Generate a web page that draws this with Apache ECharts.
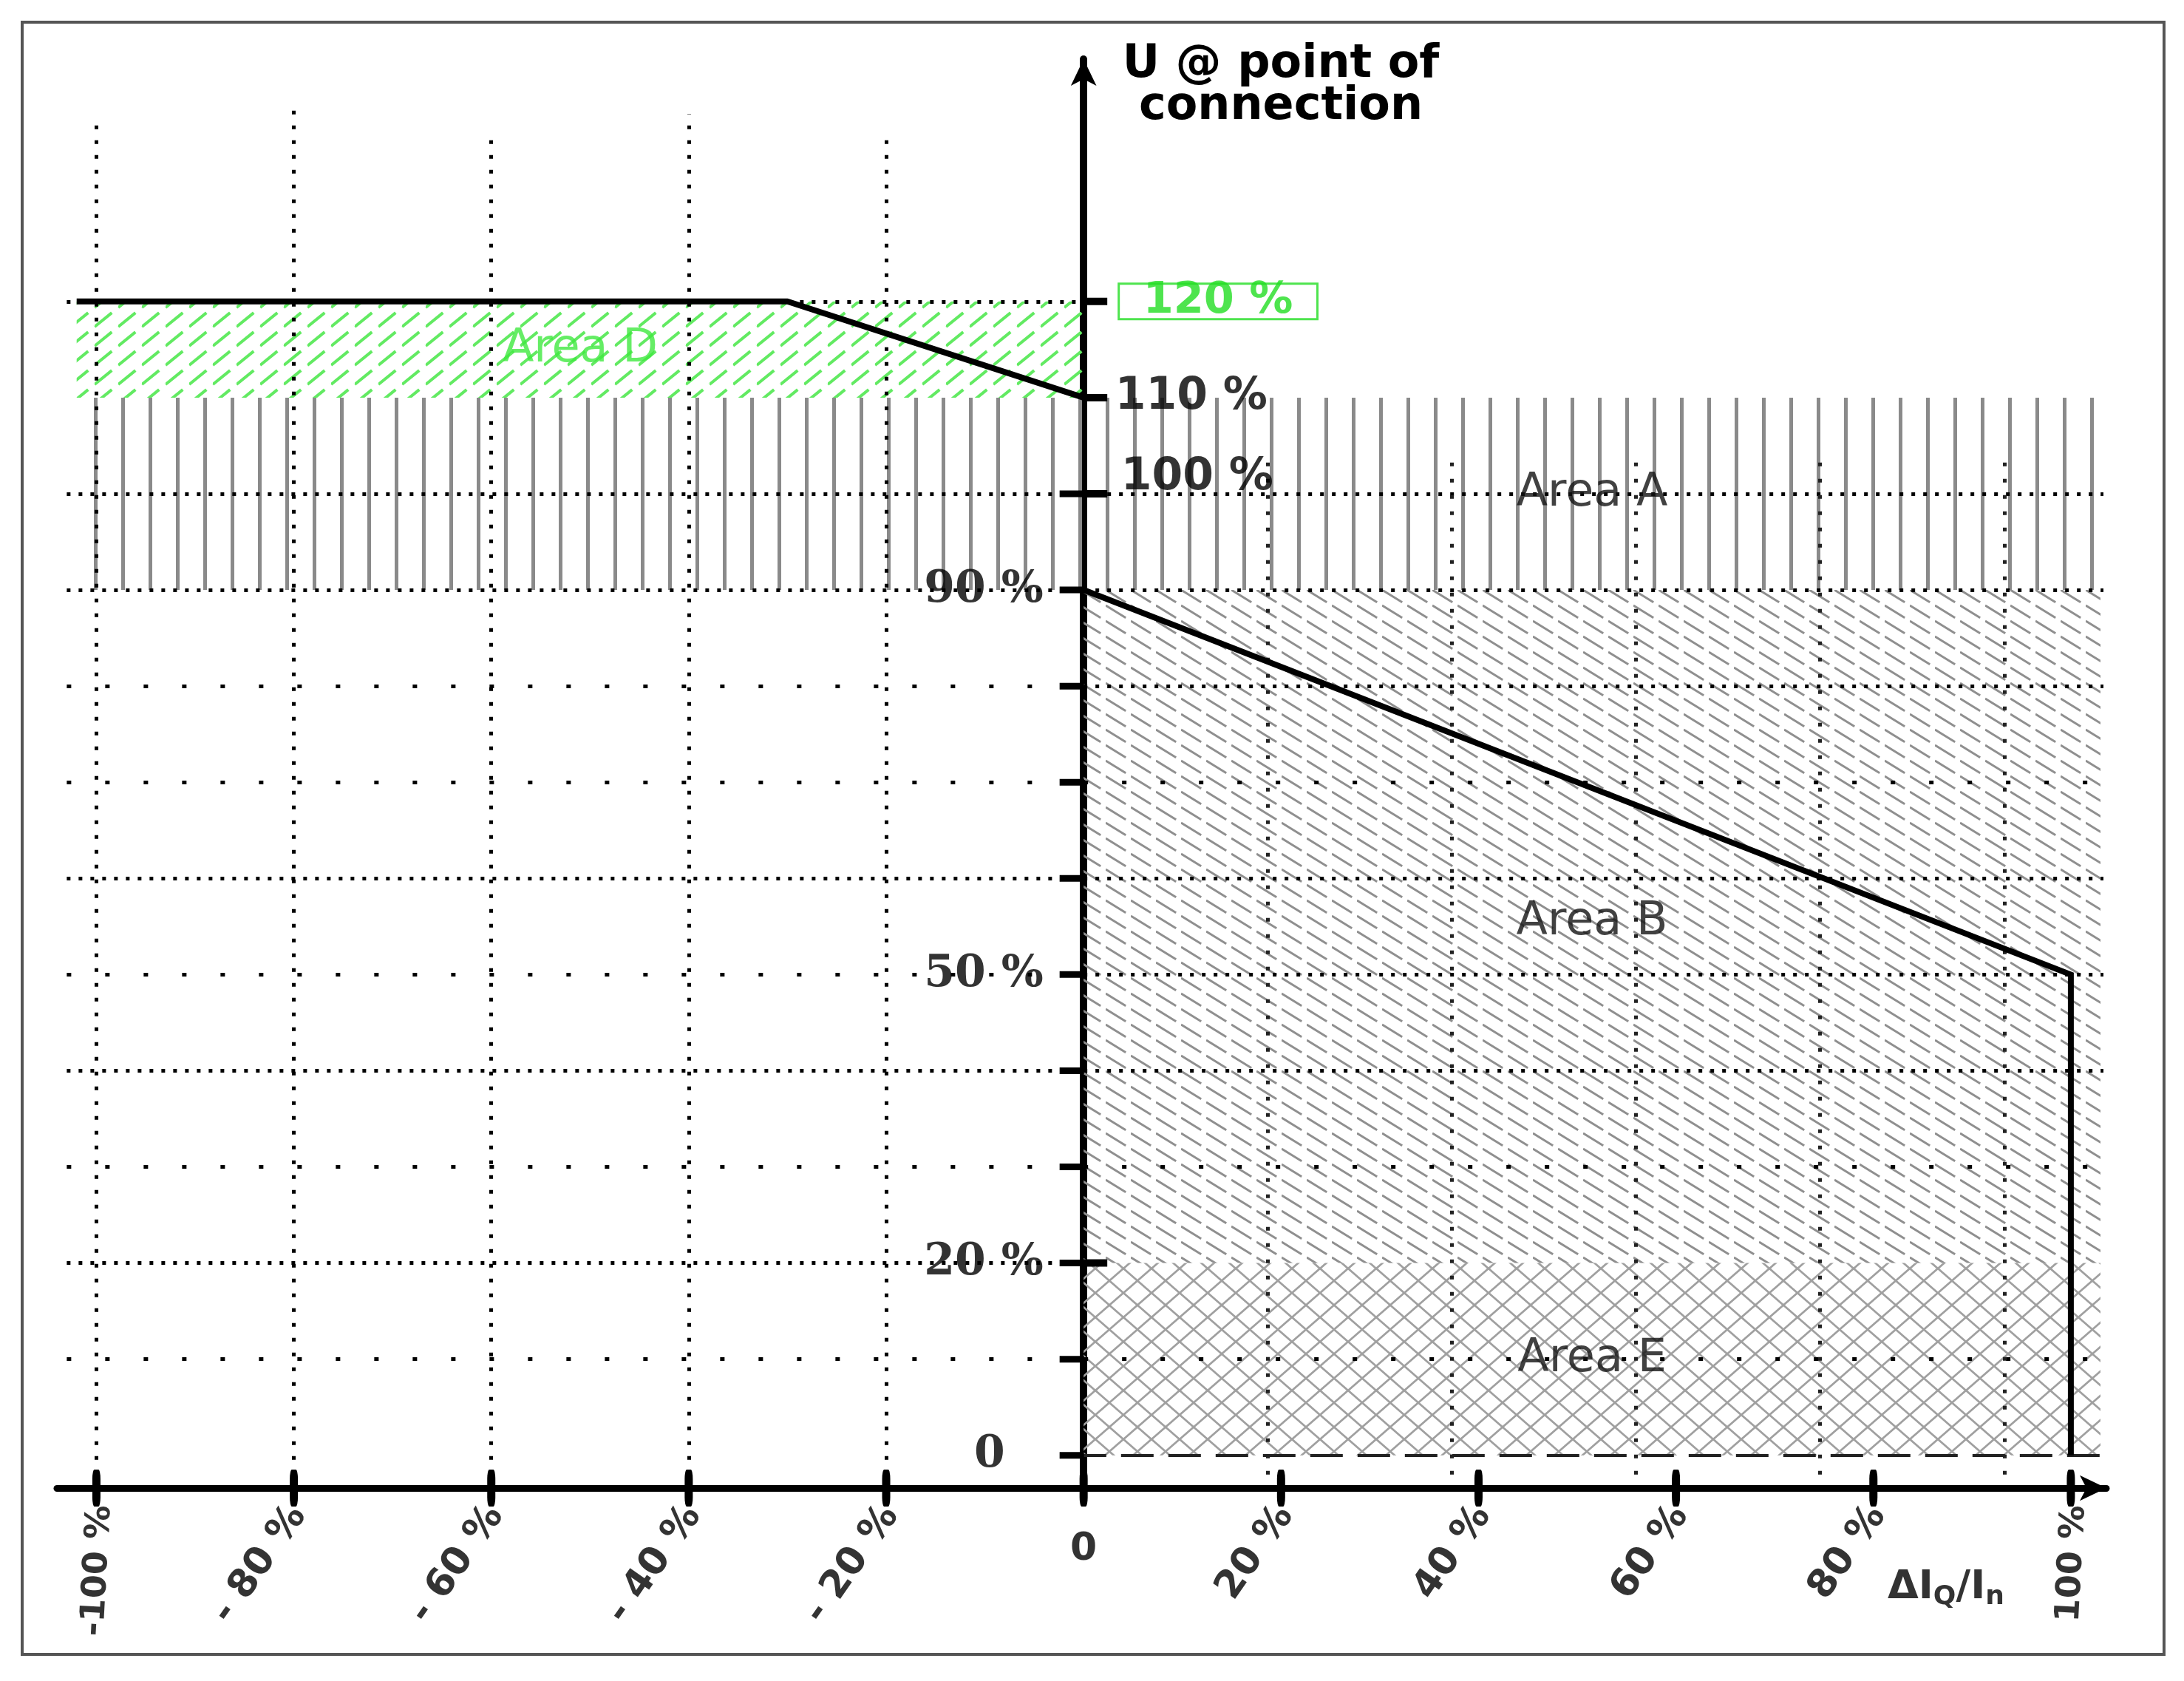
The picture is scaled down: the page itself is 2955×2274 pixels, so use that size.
<!DOCTYPE html>
<html>
<head>
<meta charset="utf-8">
<script src="https://cdn.jsdelivr.net/npm/echarts@6/dist/echarts.min.js"></script>
<style>
  html, body { margin: 0; background: #fff; }
  #chart { width: 2955px; height: 2274px; }
</style>
</head>
<body>
<div id="chart"></div>
<script>
// values, all in percent
const xTicks = [-100, -80, -60, -40, -20, 0, 20, 40, 60, 80, 100];
const xTickText = ['-100 %', '- 80 %', '- 60 %', '- 40 %', '- 20 %', '0', '20 %', '40 %', '60 %', '80 %', '100 %'];
const yTicksLeft = [0, 10, 20, 30, 40, 50, 60, 70, 80, 90, 100];
const yTicksRight = [20, 100, 110, 120];
const yLabelsLeft = [90, 50, 20, 0];
const yLabelsLeftText = ['90 %', '50 %', '20 %', '0'];
const yLabelsRight = [110, 100];
const yLabelsRightText = ['110 %', '100 %'];
const yLabelBoxed = [120];
const yLabelBoxedText = ['120 %'];

// limit curves
const upperLimitX = [-102, -30, 0];
const upperLimitY = [120, 120, 110];
const lowerLimitX = [0, 100, 100];
const lowerLimitY = [90, 50, 0];

// hatched areas
const areaNames = ['Area D', 'Area A', 'Area B', 'Area E'];
const areaXFrom = [-102, -102, 0, 0];
const areaXTo = [0, 103, 103, 103];
const areaYFrom = [110, 90, 20, 0];
const areaYTo = [120, 110, 90, 20];

// grid lines
const hGridLeft = [10, 20, 30, 40, 50, 60, 70, 80, 90, 100, 120];
const hGridRight = [10, 30, 40, 50, 60, 70, 80, 90, 100];
const hDashedRight = [0, 20];
const vGridLeft = [-100, -80, -60, -40, -20];
const vGridLeftTop = [139, 140, 137.5, 139.5, 137.5];
const vGridRight = [18.65, 37.3, 55.95, 74.6, 93.25];

// layout
const X_MIN = -104, X_MAX = 103.6, Y_MIN = -3.4, Y_MAX = 145.2;
const GRID_END_L = -103, GRID_END_R = 103.3;
const areaLabelAt = [[-51, 115], [51.5, 100], [51.5, 55.4], [51.5, 10]];
const ink = '#000';
const green = '#22dd22';
const SANS = '"DejaVu Sans", "Liberation Sans", sans-serif';
const SERIF = '"DejaVu Serif", "Liberation Serif", serif';

function hatch(w, h, draw) {
  const c = document.createElement('canvas');
  c.width = w;
  c.height = h;
  draw(c.getContext('2d'), w, h);
  return { image: c, repeat: 'repeat' };
}

const patterns = [
  // Area D, green "/" dashes
  hatch(32, 26, (ctx, w, h) => {
    ctx.strokeStyle = '#62ea62';
    ctx.lineWidth = 4;
    ctx.setLineDash([30, 11]);
    [-1, 0, 1].forEach((k) => {
      ctx.beginPath();
      ctx.moveTo(0, h + k * h);
      ctx.lineTo(w, k * h);
      ctx.stroke();
    });
  }),
  // Area A, grey vertical stripes
  hatch(37, 8, (ctx, w, h) => {
    ctx.fillStyle = '#8a8a8a';
    ctx.fillRect(16, 0, 5, h);
  }),
  // Area B, grey "\" dashes
  hatch(34, 21, (ctx, w, h) => {
    ctx.strokeStyle = '#8f8f8f';
    ctx.lineWidth = 3;
    ctx.setLineDash([32, 8]);
    [-1, 0, 1].forEach((k) => {
      ctx.beginPath();
      ctx.moveTo(0, k * h);
      ctx.lineTo(w, h + k * h);
      ctx.stroke();
    });
  }),
  // Area E, grey mesh
  hatch(38, 33, (ctx, w, h) => {
    ctx.strokeStyle = '#a0a0a0';
    ctx.lineWidth = 2.8;
    [-1, 0, 1].forEach((k) => {
      ctx.beginPath();
      ctx.moveTo(0, k * h);
      ctx.lineTo(w, h + k * h);
      ctx.moveTo(0, h + k * h);
      ctx.lineTo(w, k * h);
      ctx.stroke();
    });
  })
];

const denseDot = { color: ink, width: 5, type: [5, 11], cap: 'butt' };
const sparseDot = { color: ink, width: 5, type: [6, 46], cap: 'butt' };
const vertDot = { color: ink, width: 5, type: [5, 15], cap: 'butt' };
const sparseLeft = new Set([10, 30, 50, 70, 80]);
const sparseRight = new Set([10, 30, 70]);

const gridLines = [];
hGridLeft.forEach((y) => {
  gridLines.push([
    { coord: [GRID_END_L, y], lineStyle: sparseLeft.has(y) ? sparseDot : denseDot },
    { coord: [0, y] }
  ]);
});
hGridRight.forEach((y) => {
  gridLines.push([
    { coord: [0, y], lineStyle: sparseRight.has(y) ? sparseDot : denseDot },
    { coord: [GRID_END_R, y] }
  ]);
});
gridLines.push([
  { coord: [-1, hDashedRight[0]], lineStyle: { color: '#222', width: 4, type: [44, 20] } },
  { coord: [103, hDashedRight[0]] }
]);
gridLines.push([
  { coord: [0, hDashedRight[1]], lineStyle: { color: ink, width: 4, type: [28, 13] } },
  { coord: [107.5, hDashedRight[1]] }
]);
vGridLeft.forEach((x, i) => {
  gridLines.push([{ coord: [x, -2], lineStyle: vertDot }, { coord: [x, vGridLeftTop[i]] }]);
});
vGridRight.forEach((x) => {
  gridLines.push([
    { coord: [x, -2], lineStyle: { color: '#222', width: 5, type: [5, 17], cap: 'butt' } },
    { coord: [x, 103.5] }
  ]);
});

const textBase = { fontFamily: SANS, fontWeight: 'bold', color: ink };

const option = {
  animation: false,
  backgroundColor: '#fff',
  grid: { left: 77, right: 105, top: 80, bottom: 261 },
  xAxis: {
    type: 'value',
    min: X_MIN,
    max: X_MAX,
    axisLine: {
      onZero: false,
      symbol: ['none', 'arrow'],
      symbolSize: [26, 36],
      lineStyle: { color: ink, width: 9 }
    },
    axisTick: { show: false },
    axisLabel: { show: false },
    splitLine: { show: false }
  },
  yAxis: {
    type: 'value',
    min: Y_MIN,
    max: Y_MAX,
    axisLine: {
      onZero: true,
      symbol: ['none', 'arrow'],
      symbolSize: [26, 36],
      lineStyle: { color: ink, width: 10 }
    },
    axisTick: { show: false },
    axisLabel: { show: false },
    splitLine: { show: false }
  },
  graphic: [
    {
      type: 'rect',
      shape: { x: 30, y: 30, width: 2898, height: 2208 },
      style: { fill: 'none', stroke: '#555', lineWidth: 4 },
      silent: true
    },
    {
      type: 'text',
      x: 1733,
      y: 88,
      style: {
        text: 'U @ point of',
        fontFamily: SANS, fontWeight: 'bold', fontSize: 62, fill: ink,
        align: 'center', verticalAlign: 'middle', textAlign: 'center', textVerticalAlign: 'middle'
      }
    },
    {
      type: 'text',
      x: 1733,
      y: 145,
      style: {
        text: 'connection',
        fontFamily: SANS, fontWeight: 'bold', fontSize: 62, fill: ink,
        align: 'center', verticalAlign: 'middle', textAlign: 'center', textVerticalAlign: 'middle'
      }
    }
  ],
  series: [
    {
      name: 'areas',
      type: 'line',
      data: [],
      clip: false,
      z: 1,
      markArea: {
        silent: true,
        label: { show: false },
        data: areaNames.map((n, i) => [
          { name: n, coord: [areaXFrom[i], areaYFrom[i]], itemStyle: { color: patterns[i], opacity: 1 } },
          { coord: [areaXTo[i], areaYTo[i]] }
        ])
      }
    },
    {
      name: 'grid',
      type: 'line',
      data: [],
      clip: false,
      z: 2,
      markLine: {
        silent: true,
        symbol: ['none', 'none'],
        label: { show: false },
        data: gridLines
      }
    },
    {
      name: 'upper limit',
      type: 'line',
      data: upperLimitX.map((x, i) => [x, upperLimitY[i]]),
      symbol: 'none',
      clip: false,
      z: 5,
      lineStyle: { color: ink, width: 8 }
    },
    {
      name: 'lower limit',
      type: 'line',
      data: lowerLimitX.map((x, i) => [x, lowerLimitY[i]]),
      symbol: 'none',
      clip: false,
      z: 5,
      lineStyle: { color: ink, width: 8, join: 'miter' }
    },
    {
      name: 'x ticks',
      type: 'scatter',
      data: xTicks.map((x) => [x, Y_MIN]),
      symbol: 'roundRect',
      symbolSize: [11, 50],
      clip: false,
      silent: true,
      z: 6,
      itemStyle: { color: ink, opacity: 1 }
    },
    {
      name: 'y ticks left',
      type: 'scatter',
      data: yTicksLeft.map((y) => [0, y]),
      symbol: 'rect',
      symbolSize: [33, 9],
      symbolOffset: [-16, 0],
      clip: false,
      silent: true,
      z: 6,
      itemStyle: { color: ink, opacity: 1 }
    },
    {
      name: 'y ticks right',
      type: 'scatter',
      data: yTicksRight.map((y) => [0, y]),
      symbol: 'rect',
      symbolSize: [32, 10],
      symbolOffset: [16, 0],
      clip: false,
      silent: true,
      z: 6,
      itemStyle: { color: ink, opacity: 1 }
    },
    {
      name: 'x labels',
      type: 'scatter',
      symbolSize: 1,
      clip: false,
      silent: true,
      z: 7,
      itemStyle: { color: 'transparent' },
      data: xTicks.map((x, i) => {
        if (x === 0) {
          return {
            value: [0, -9.8],
            label: { show: true, position: 'inside', formatter: xTickText[i], ...textBase, fontSize: 52 }
          };
        }
        const edge = Math.abs(x) === 100;
        return {
          value: [x + 0.5, edge ? -5.2 : -5.6],
          label: {
            show: true,
            position: 'left',
            distance: 0,
            rotate: edge ? 87 : 55,
            formatter: xTickText[i],
            ...textBase,
            fontSize: edge ? 46 : 52
          }
        };
      })
    },
    {
      name: 'y labels',
      type: 'scatter',
      symbolSize: 1,
      clip: false,
      silent: true,
      z: 7,
      itemStyle: { color: 'transparent' },
      data: [
        ...yLabelsLeft.map((y, i) => ({
          value: [0, y],
          label: {
            show: true,
            position: 'left',
            distance: y === 0 ? 106 : 54,
            formatter: yLabelsLeftText[i],
            ...textBase,
            fontFamily: SERIF,
            fontSize: 60
          }
        })),
        ...yLabelsRight.map((y, i) => ({
          value: [0, y],
          label: {
            show: true,
            position: 'right',
            distance: y === 100 ? 50 : 42,
            offset: [0, y === 100 ? -22 : 0],
            formatter: yLabelsRightText[i],
            ...textBase,
            fontSize: 60
          }
        })),
        ...yLabelBoxed.map((y, i) => ({
          value: [0, y],
          label: {
            show: true,
            position: 'right',
            distance: 47,
            formatter: yLabelBoxedText[i],
            fontFamily: SANS,
            fontWeight: 'bold',
            fontSize: 59,
            color: green,
            borderColor: green,
            borderWidth: 3,
            lineHeight: 48,
            padding: [0, 33]
          }
        }))
      ]
    },
    {
      name: 'area labels',
      type: 'scatter',
      symbolSize: 1,
      clip: false,
      silent: true,
      z: 7,
      itemStyle: { color: 'transparent' },
      data: areaNames.map((n, i) => ({
        value: areaLabelAt[i],
        label: {
          show: true,
          position: 'inside',
          formatter: n,
          fontFamily: SANS,
          fontSize: 62,
          color: i === 0 ? '#3fe83f' : '#111'
        }
      }))
    },
    {
      name: 'x name',
      type: 'scatter',
      symbolSize: 1,
      clip: false,
      silent: true,
      z: 7,
      itemStyle: { color: 'transparent' },
      data: [{
        value: [81.4, -13.8],
        label: {
          show: true,
          position: 'right',
          distance: 0,
          formatter: '{m|ΔI}{s|Q}{m|/I}{s|n}',
          rich: {
            m: { fontFamily: SANS, fontWeight: 'bold', fontSize: 54, color: ink },
            s: { fontFamily: SANS, fontWeight: 'bold', fontSize: 36, color: ink, padding: [24, 0, 0, 0] }
          }
        }
      }]
    }
  ]
};

const chart = echarts.init(document.getElementById('chart'));
chart.setOption(option);
</script>
</body>
</html>
